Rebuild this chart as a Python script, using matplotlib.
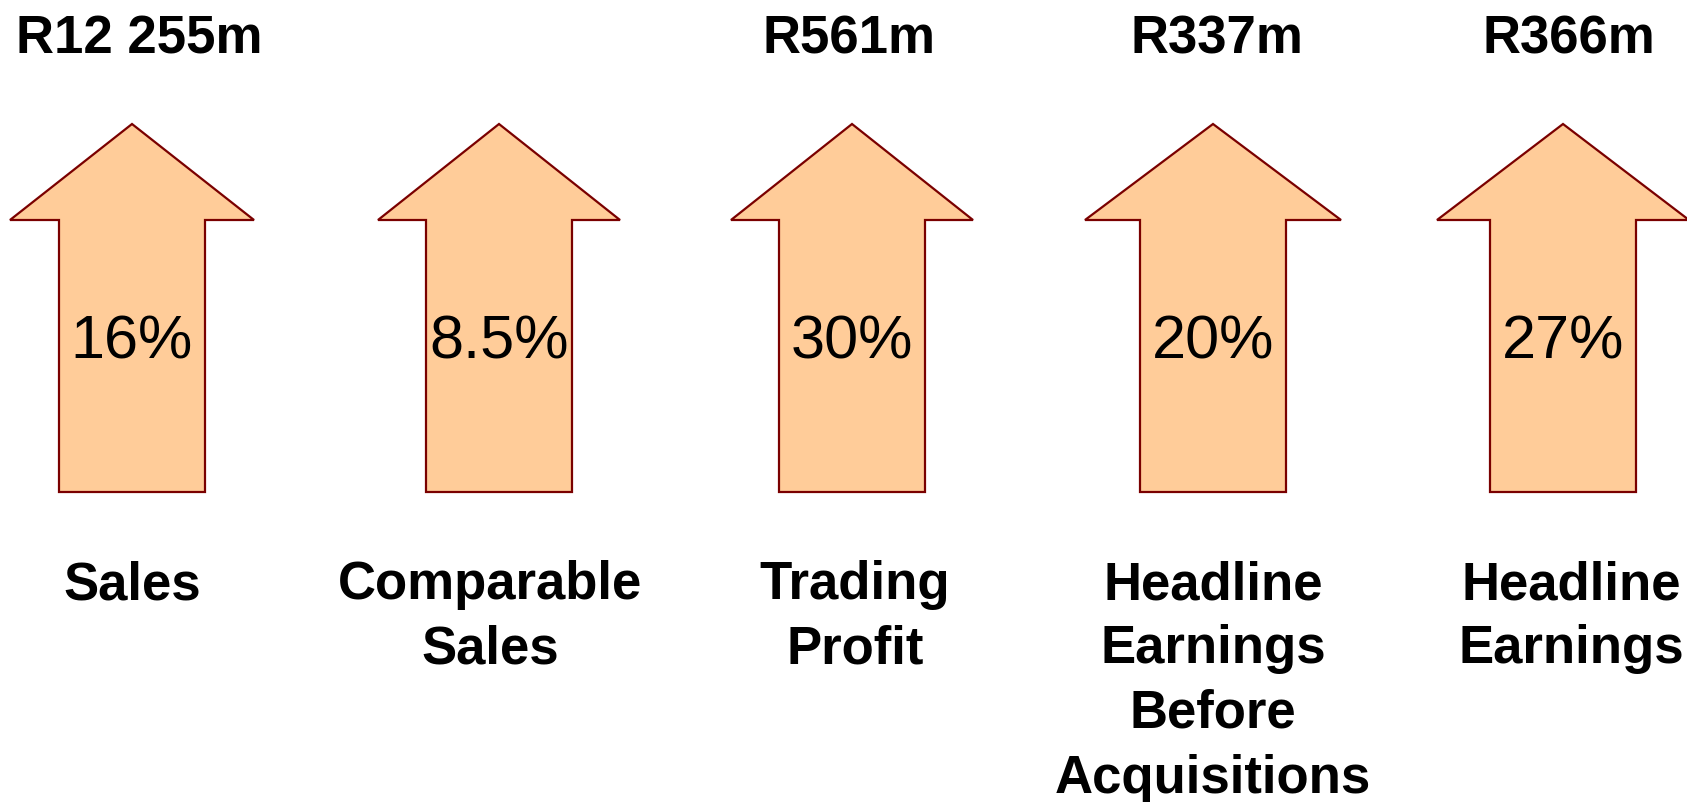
import matplotlib
matplotlib.use("Agg")
import matplotlib.pyplot as plt
from matplotlib.patches import Polygon

plt.rcParams['font.family'] = ['Liberation Sans', 'DejaVu Sans']

# ---- data ----
values_top = ["R12 255m", "", "R561m", "R337m", "R366m"]
growth = ["16%", "8.5%", "30%", "20%", "27%"]
categories = ["Sales", "Comparable\nSales", "Trading\nProfit",
              "Headline\nEarnings\nBefore\nAcquisitions", "Headline\nEarnings"]

# ---- layout (pixel space) ----
W, H = 1687, 802
centers = [132, 499, 852, 1213, 1563]
head_half = [122, 121, 121, 128, 126]
shaft_half = 73
tip_y, wing_y, bottom_y = 124, 220, 492
top_label_dx = [7, 0, -3, 4, 6]
cat_dx = [0, -9, 3, 0, 8]

fig = plt.figure(figsize=(W / 100, H / 100), dpi=100)
ax = fig.add_axes([0, 0, 1, 1])
ax.set_xlim(0, W)
ax.set_ylim(H, 0)
ax.axis("off")

for i, cx in enumerate(centers):
    hh = head_half[i]
    pts = [(cx, tip_y), (cx + hh, wing_y), (cx + shaft_half, wing_y),
           (cx + shaft_half, bottom_y), (cx - shaft_half, bottom_y),
           (cx - shaft_half, wing_y), (cx - hh, wing_y)]
    ax.add_patch(Polygon(pts, closed=True, facecolor="#FFCC99",
                         edgecolor="#7A0000", linewidth=1.6, joinstyle="miter"))
    ax.text(cx, 343, growth[i], ha="center", va="center", fontsize=44, color="black")
    if values_top[i]:
        ax.text(cx + top_label_dx[i], 40, values_top[i], ha="center", va="center",
                fontsize=38, fontweight="bold", color="black")
    for k, line in enumerate(categories[i].split("\n")):
        ax.text(cx + cat_dx[i], 585 + k * 64.5, line, ha="center", va="center",
                fontsize=38, fontweight="bold", color="black")

fig.savefig("out.png", dpi=100, facecolor="white")
